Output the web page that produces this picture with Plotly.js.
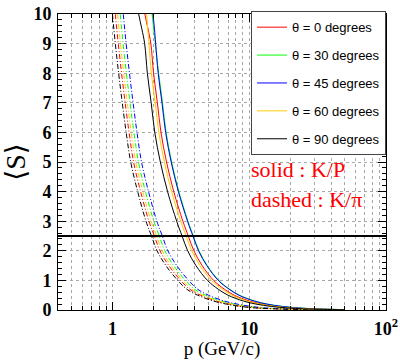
<!DOCTYPE html>
<html>
<head>
<meta charset="utf-8">
<script src="https://cdn.plot.ly/plotly-3.0.1.min.js"></script>
<style>html,body{margin:0;padding:0;background:#fff;}#chart{width:400px;height:360px;}</style>
</head>
<body>
<div id="chart"></div>
<script>
// ---- data ----
const thetaLabels = ['θ = 0 degrees', 'θ = 30 degrees', 'θ = 45 degrees', 'θ = 60 degrees', 'θ = 90 degrees'];
const seriesColors = ['#ff0000', '#00ff00', '#0000ff', '#ffcc00', '#000000'];

// solid : K/P  (separation power levels and the momentum where each curve reaches them)
const sSolid = [10.5, 10, 9.5, 9, 8, 7, 6, 5, 4, 3, 2.5, 2, 1.5, 1, 0.7, 0.5, 0.3, 0.2, 0.12, 0.07, 0.04, 0.02, 0.01];
const pSolid0  = [1.665, 1.726, 1.82, 1.909, 1.998, 2.131, 2.264, 2.486, 2.808, 3.275, 3.585, 3.941, 4.529, 5.495, 6.605, 7.77, 10.1, 12.43, 16.1, 21.09, 27.75, 38.85, 50];
const pSolid30 = [1.90, 1.95, 2.0, 2.06, 2.178, 2.323, 2.468, 2.71, 3.061, 3.57, 3.908, 4.296, 4.937, 5.99, 7.2, 8.47, 11.01, 13.55, 17.55, 22.99, 30.25, 42.35, 50];
const pSolid45 = [1.93, 1.98, 2.03, 2.07, 2.16, 2.304, 2.448, 2.688, 3.036, 3.54, 3.876, 4.26, 4.896, 5.94, 7.14, 8.4, 10.92, 13.44, 17.4, 22.8, 30, 42, 50];
const pSolid60 = [1.74, 1.78, 1.81, 1.85, 1.926, 2.054, 2.183, 2.397, 2.707, 3.157, 3.456, 3.799, 4.366, 5.297, 6.367, 7.49, 9.737, 11.98, 15.52, 20.33, 26.75, 37.45, 50];
const pSolid90 = [1.50, 1.555, 1.64, 1.72, 1.80, 1.92, 2.04, 2.24, 2.53, 2.95, 3.23, 3.55, 4.08, 4.95, 5.95, 7.0, 9.1, 11.2, 14.5, 19, 25, 35, 50];

// dashed : K/pi
const sDashed = [11, 10, 9, 8, 7, 6, 5, 4, 3, 2.5, 2, 1.5, 1, 0.7, 0.5, 0.3, 0.2, 0.12, 0.07, 0.04, 0.02, 0.01, 0.005];
const pDashed0  = [1.003, 1.05, 1.103, 1.166, 1.239, 1.323, 1.428, 1.607, 1.848, 2.027, 2.226, 2.583, 3.15, 3.675, 4.41, 5.775, 7.14, 9.03, 11.55, 15.75, 23.1, 33.6, 47];
const pDashed30 = [1.089, 1.14, 1.197, 1.265, 1.345, 1.436, 1.55, 1.744, 2.006, 2.2, 2.417, 2.804, 3.42, 3.99, 4.788, 6.27, 7.752, 9.804, 12.54, 17.1, 25.08, 36.48, 50];
const pDashed45 = [1.146, 1.2, 1.26, 1.332, 1.416, 1.512, 1.632, 1.836, 2.112, 2.316, 2.544, 2.952, 3.6, 4.2, 5.04, 6.6, 8.16, 10.32, 13.2, 18, 26.4, 38.4, 50];
const pDashed60 = [1.041, 1.09, 1.145, 1.21, 1.286, 1.373, 1.482, 1.668, 1.918, 2.104, 2.311, 2.681, 3.27, 3.815, 4.578, 5.995, 7.412, 9.374, 11.99, 16.35, 23.98, 34.88, 49];
const pDashed90 = [0.955, 1.0, 1.05, 1.11, 1.18, 1.26, 1.36, 1.53, 1.76, 1.93, 2.12, 2.46, 3.0, 3.5, 4.2, 5.5, 6.8, 8.6, 11, 15, 22, 32, 45];

const thresholdS = 2.5;
const xTickVals = [1, 10, 100];
const xTickText = ['1', '10', '10<sup>2</sup>'];
const xMinorVals = [0.5, 0.6, 0.7, 0.8, 0.9, 2, 3, 4, 5, 6, 7, 8, 9, 20, 30, 40, 50, 60, 70, 80, 90];
const annText = ['solid : K/P', 'dashed : K/π'];

// ---- traces ----
const solidP = [pSolid0, pSolid30, pSolid45, pSolid60, pSolid90];
const dashedP = [pDashed0, pDashed30, pDashed45, pDashed60, pDashed90];
const traces = [];
dashedP.forEach((p, i) => {
  traces.push({
    x: p, y: sDashed, type: 'scatter', mode: 'lines', showlegend: false,
    line: {color: seriesColors[i], width: 1, dash: '5px,2px,1px,2px', shape: 'spline'},
    hoverinfo: 'skip'
  });
});
solidP.forEach((p, i) => {
  traces.push({
    x: p, y: sSolid, type: 'scatter', mode: 'lines', name: thetaLabels[i],
    legendgroup: 'g' + i,
    line: {color: seriesColors[i], width: 1, shape: 'spline'}
  });
});

const gridCol = '#a8a8a8';
const serif = 'Liberation Serif';
const tickFont = {family: serif, size: 18, color: '#000', weight: 'bold'};

const layout = {
  width: 400, height: 360,
  margin: {l: 58, r: 14, t: 13, b: 50, pad: 0},
  paper_bgcolor: '#fff', plot_bgcolor: '#fff',
  showlegend: true,
  legend: {
    x: 1, xanchor: 'right', y: 1.006, yanchor: 'top',
    bgcolor: '#fff', bordercolor: '#444', borderwidth: 1,
    font: {family: 'Liberation Sans', size: 13, color: '#000'},
    tracegroupgap: 8, itemwidth: 30
  },
  xaxis: {
    type: 'log', range: [Math.log10(0.4), 2],
    tickmode: 'array', tickvals: xTickVals, ticktext: xTickText,
    ticks: 'inside', ticklen: 8, tickcolor: '#000',
    showline: true, linecolor: '#000', linewidth: 1, mirror: 'allticks',
    showgrid: true, gridcolor: gridCol, griddash: 'dot', gridwidth: 1,
    zeroline: false, tickfont: tickFont, ticklabelstandoff: 2,
    minor: {tickmode: 'array', tickvals: xMinorVals, ticks: 'inside', ticklen: 4, tickcolor: '#000',
            showgrid: true, gridcolor: gridCol, griddash: 'dot', gridwidth: 1},
    title: {text: 'p (GeV/c)', font: {family: serif, size: 19, color: '#000'}, standoff: 9},
    automargin: false
  },
  yaxis: {
    range: [0, 10], tickmode: 'linear', tick0: 0, dtick: 1,
    ticks: 'inside', ticklen: 8, tickcolor: '#000',
    showline: true, linecolor: '#000', linewidth: 1, mirror: 'allticks',
    showgrid: true, gridcolor: gridCol, griddash: 'dot', gridwidth: 1,
    zeroline: false, tickfont: tickFont, ticklabelstandoff: 2,
    minor: {dtick: 0.2, ticks: 'inside', ticklen: 4, tickcolor: '#000', showgrid: false},
    title: {text: '⟨S⟩', font: {family: 'Liberation Serif, DejaVu Serif, serif', size: 28, color: '#000'}, standoff: 6},
    automargin: false
  },
  shapes: [{
    type: 'line', xref: 'paper', x0: 0, x1: 1, yref: 'y', y0: thresholdS, y1: thresholdS,
    line: {color: '#000', width: 2}, layer: 'above'
  }],
  annotations: [
    {text: annText[0], xref: 'paper', yref: 'paper', x: 0.582, y: 0.474, xanchor: 'left', yanchor: 'middle',
     showarrow: false, font: {family: serif, size: 22, color: '#ff0000'}},
    {text: annText[1], xref: 'paper', yref: 'paper', x: 0.582, y: 0.372, xanchor: 'left', yanchor: 'middle',
     showarrow: false, font: {family: serif, size: 22, color: '#ff0000'}}
  ]
};

Plotly.newPlot('chart', traces, layout, {displayModeBar: false, staticPlot: true});
</script>
</body>
</html>
